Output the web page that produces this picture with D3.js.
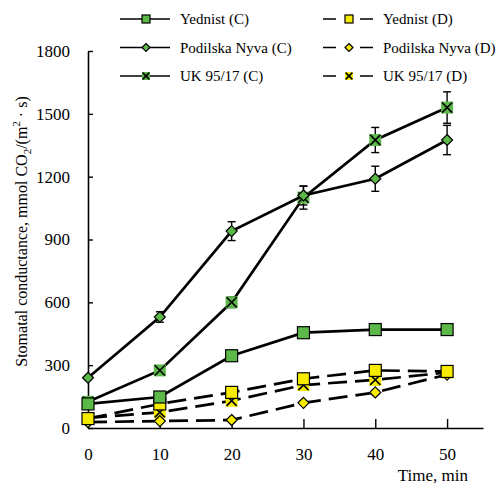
<!DOCTYPE html>
<html>
<head>
<meta charset="utf-8">
<script src="https://cdn.jsdelivr.net/npm/d3@7"></script>
<style>
  body { margin: 0; background: #fff; }
  svg text { font-family: 'Times New Roman', 'Liberation Serif', 'DejaVu Serif', serif; fill: #000; }
</style>
</head>
<body>
<svg id="chart" width="497" height="485"></svg>
<script>
// time points, min
const times = [0, 10, 20, 30, 40, 50];

// control (C) series
const yednistC = [115, 148, 345, 455, 470, 470];
const podilskaC = [240, 530, 940, 1110, 1190, 1375];
const ukC = [125, 275, 600, 1100, 1375, 1530];

// drought (D) series
const yednistD = [45, 115, 170, 235, 275, 270];
const podilskaD = [28, 33, 38, 120, 170, 255];
const ukD = [48, 75, 130, 205, 230, 265];

// error bars (+/-)
const yednistCErr = [10, 10, 12, 15, 15, 15];
const podilskaCErr = [10, 25, 45, 45, 60, 70];
const ukCErr = [10, 12, 25, 55, 60, 75];
const yednistDErr = [8, 8, 10, 10, 10, 10];
const podilskaDErr = [5, 5, 5, 8, 10, 10];
const ukDErr = [8, 8, 10, 10, 10, 10];

const yTicks = [0, 300, 600, 900, 1200, 1500, 1800];
const xTicks = [0, 10, 20, 30, 40, 50];

const green = '#5cb849';
const yellow = '#f7ec00';
const serif = "'Times New Roman', 'Liberation Serif', 'DejaVu Serif', serif";

const series = [
	{ name: 'Yednist (C)', values: yednistC, err: yednistCErr, shape: 'square', fill: green, dashed: false },
	{ name: 'Podilska Nyva (C)', values: podilskaC, err: podilskaCErr, shape: 'diamond', fill: green, dashed: false },
	{ name: 'UK 95/17 (C)', values: ukC, err: ukCErr, shape: 'cross', fill: green, dashed: false },
	{ name: 'Yednist (D)', values: yednistD, err: yednistDErr, shape: 'square', fill: yellow, dashed: true },
	{ name: 'Podilska Nyva (D)', values: podilskaD, err: podilskaDErr, shape: 'diamond', fill: yellow, dashed: true },
	{ name: 'UK 95/17 (D)', values: ukD, err: ukDErr, shape: 'cross', fill: yellow, dashed: true },
];

const svg = d3.select('#chart').attr('font-family', serif);

const x = d3.scaleLinear().domain([0, 55]).range([88, 483]);
const y = d3.scaleLinear().domain([0, 1800]).range([428, 51]);

// axes, ticks point inward
const yAxis = svg.append('g')
	.attr('transform', `translate(${x(0)},0)`)
	.call(d3.axisLeft(y).tickValues(yTicks).tickFormat(d3.format('d'))
		.tickSizeInner(-5).tickSizeOuter(0).tickPadding(18));
const xAxis = svg.append('g')
	.attr('transform', `translate(0,${y(0)})`)
	.call(d3.axisBottom(x).tickValues(xTicks).tickFormat(d3.format('d'))
		.tickSizeInner(-9).tickSizeOuter(0).tickPadding(20));

[yAxis, xAxis].forEach((ax) => {
	ax.attr('font-family', serif).attr('font-size', 17);
	ax.select('.domain').attr('stroke', '#000').attr('stroke-width', 1.6);
	ax.selectAll('.tick line').attr('stroke', '#000').attr('stroke-width', 1.4);
	ax.selectAll('.tick text').attr('fill', '#000');
});

// axis titles
svg.append('text')
	.attr('x', 468)
	.attr('y', 481)
	.attr('text-anchor', 'end')
	.attr('font-size', 17)
	.text('Time, min');

const yTitle = svg.append('text')
	.attr('transform', `translate(27,${(y(0) + y(1800)) / 2 - 8}) rotate(-90)`)
	.attr('text-anchor', 'middle')
	.attr('font-size', 16);
yTitle.append('tspan').text('Stomatal conductance, mmol CO');
yTitle.append('tspan').attr('font-size', 11).attr('dy', 4).text('2');
yTitle.append('tspan').attr('dy', -4).text('/(m');
yTitle.append('tspan').attr('font-size', 11).attr('dy', -7).text('2');
yTitle.append('tspan').attr('dy', 7).text(' · s)');

// draws a marker of the given shape at the origin of group g
const drawMarker = (g, d, size) => {
	if (d.shape === 'square') {
		g.append('rect')
			.attr('x', -size / 2).attr('y', -size / 2)
			.attr('width', size).attr('height', size)
			.attr('fill', d.fill).attr('stroke', '#000').attr('stroke-width', 1.2);
	} else if (d.shape === 'diamond') {
		const s = size * 0.5;
		g.append('path')
			.attr('d', `M0,${-s}L${s},0L0,${s}L${-s},0Z`)
			.attr('fill', d.fill).attr('stroke', '#000').attr('stroke-width', 1.2);
	} else {
		const s = size * 0.5;
		g.append('rect')
			.attr('x', -s).attr('y', -s)
			.attr('width', 2 * s).attr('height', 2 * s)
			.attr('fill', d.fill);
		const c = s * 0.85;
		g.append('path')
			.attr('d', `M${-c},${-c}L${c},${c}M${c},${-c}L${-c},${c}`)
			.attr('stroke', '#000').attr('stroke-width', 1.6);
	}
};

const line = d3.line().x((d) => x(d.t)).y((d) => y(d.v));

const plot = svg.append('g');

// error bars drawn first, lines and markers above them
series.forEach((s) => {
	const pts = times.map((t, i) => ({ t, v: s.values[i], e: s.err[i] }));
	const eb = plot.append('g').attr('stroke', '#000').attr('stroke-width', 1.4);
	pts.forEach((p) => {
		eb.append('line').attr('x1', x(p.t)).attr('x2', x(p.t)).attr('y1', y(p.v - p.e)).attr('y2', y(p.v + p.e));
		[p.v - p.e, p.v + p.e].forEach((v) => {
			eb.append('line').attr('x1', x(p.t) - 4).attr('x2', x(p.t) + 4).attr('y1', y(v)).attr('y2', y(v));
		});
	});
});

// dashed series go under the solid ones
[...series].reverse().forEach((s) => {
	const pts = times.map((t, i) => ({ t, v: s.values[i] }));
	plot.append('path')
		.datum(pts)
		.attr('d', line)
		.attr('fill', 'none')
		.attr('stroke', '#000')
		.attr('stroke-width', 2.7)
		.attr('stroke-dasharray', s.dashed ? '19,8' : null);
	plot.selectAll(null)
		.data(pts)
		.join('g')
		.attr('transform', (p) => `translate(${x(p.t)},${y(p.v)})`)
		.each(function () {
			drawMarker(d3.select(this), s, s.shape === 'diamond' ? 11 : 12);
		});
});

// legend, two columns of three rows
const legend = svg.append('g');
series.forEach((s, i) => {
	const col = s.dashed ? 1 : 0;
	const row = i % 3;
	const lx = col === 0 ? 120 : 323;
	const ly = 19 + row * 28.5;
	const item = legend.append('g').attr('transform', `translate(${lx},${ly})`);
	item.append('line')
		.attr('x1', 0).attr('x2', 50)
		.attr('stroke', '#000').attr('stroke-width', 1.6)
		.attr('stroke-dasharray', s.dashed ? '13,24,13' : null);
	const m = item.append('g').attr('transform', 'translate(26,0)');
	drawMarker(m, s, 8);
	item.append('text')
		.attr('x', 60)
		.attr('y', 5)
		.attr('font-size', 15)
		.text(s.name);
});
</script>
</body>
</html>
